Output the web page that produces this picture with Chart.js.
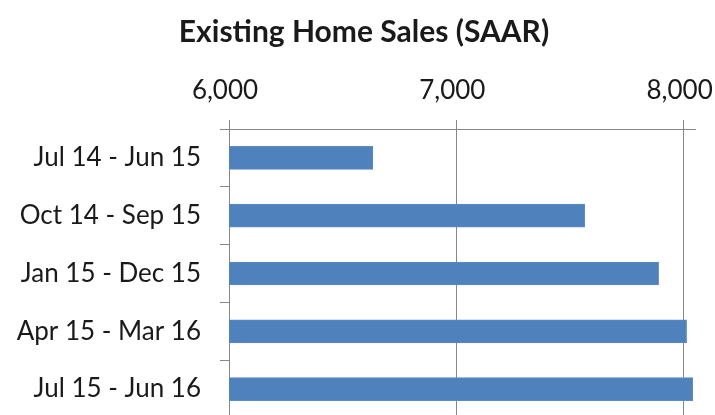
<!DOCTYPE html>
<html>
<head>
<meta charset="utf-8">
<script src="https://cdn.jsdelivr.net/npm/chart.js@4"></script>
<style>
  html, body { margin: 0; padding: 0; overflow: hidden; background: #fff; }
  canvas { display: block; }
</style>
</head>
<body>
<canvas id="salesChart" width="715" height="418"></canvas>
<script>
// Chart data
const periods = ['Jul 14 - Jun 15', 'Oct 14 - Sep 15', 'Jan 15 - Dec 15', 'Apr 15 - Mar 16', 'Jul 15 - Jun 16'];
const sales = [6633, 7565, 7890, 8013, 8040];
const tickValues = [6000, 7000, 8000];

const canvas = document.getElementById('salesChart');
const ctx = canvas.getContext('2d');

const gridGray = '#878787';
const textColor = '#1a1a1a';

const config = {
    type: 'bar',
    data: {
        labels: periods,
        datasets: [{
            label: 'Existing Home Sales',
            data: sales,
            backgroundColor: '#4F81BD',
            borderColor: '#5b8cc6',
            borderWidth: 1,
            borderSkipped: false,
            barThickness: 23
        }]
    },
    options: {
        indexAxis: 'y',
        responsive: false,
        animation: false,
        // left padding shifts the title centre to match the original
        layout: { padding: { left: 13, right: 0, top: 14, bottom: 0 } },
        plugins: {
            legend: { display: false },
            tooltip: { enabled: false },
            title: {
                display: true,
                text: 'Existing Home Sales (SAAR)',
                color: textColor,
                font: { family: 'Lato', size: 30, weight: 'bold' },
                padding: { top: 0, bottom: 0 }
            }
        },
        scales: {
            x: {
                position: 'top',
                min: 6000,
                max: 8050,
                afterBuildTicks: scale => {
                    scale.ticks = tickValues.map(v => ({ value: v }));
                },
                afterFit: scale => {
                    scale.height = 79;
                    scale.paddingLeft = 0;
                    scale.paddingRight = 20;
                },
                grid: {
                    color: gridGray,
                    lineWidth: 1,
                    tickLength: 9
                },
                border: { color: gridGray },
                ticks: {
                    color: textColor,
                    padding: 14,
                    labelOffset: -4,
                    font: { family: 'Lato', size: 26 },
                    callback: v => v.toLocaleString('en-US')
                }
            },
            y: {
                afterFit: scale => {
                    scale.width = 216;
                    scale.paddingTop = 0;
                    scale.paddingBottom = 0;
                },
                grid: {
                    color: gridGray,
                    drawOnChartArea: false,
                    tickLength: 9,
                    offset: true
                },
                border: { color: gridGray },
                ticks: {
                    color: textColor,
                    padding: 19,
                    font: { family: 'Lato', size: 26 }
                }
            }
        }
    }
};

const salesChart = new Chart(ctx, config);
</script>
</body>
</html>
